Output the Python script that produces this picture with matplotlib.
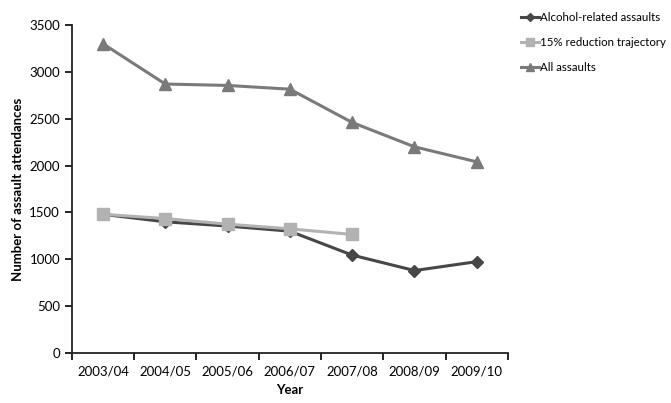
import matplotlib
matplotlib.use("Agg")
import matplotlib.pyplot as plt
import numpy as np
from matplotlib.ticker import FixedLocator, NullFormatter

plt.rcParams['font.family'] = ['Lato', 'DejaVu Sans']

years = ["2003/04", "2004/05", "2005/06", "2006/07", "2007/08", "2008/09", "2009/10"]
alcohol = [1480, 1400, 1355, 1300, 1045, 880, 975]
trajectory = [1480, 1435, 1375, 1325, 1265]
all_assaults = [3300, 2870, 2855, 2815, 2460, 2200, 2040]

fig = plt.figure(figsize=(6.71, 4.03), dpi=100)
ax = fig.add_axes([0.107, 0.124, 0.65, 0.814])

x = np.arange(len(years))
ax.plot(x, alcohol, color="#474747", lw=2.2, marker="D", ms=6.5, label="Alcohol-related assaults")
ax.plot(x[:len(trajectory)], trajectory, color="#b2b2b2", lw=2.2, marker="s", ms=8, label="15% reduction trajectory")
ax.plot(x, all_assaults, color="#7a7a7a", lw=2.2, marker="^", ms=9, label="All assaults")

ax.set_xlim(-0.5, len(years) - 0.5)
ax.set_ylim(0, 3500)
ax.set_yticks(range(0, 3501, 500))
ax.set_xticks(x)
ax.set_xticklabels(years, fontsize=9.5)
ax.xaxis.set_minor_locator(FixedLocator(np.arange(-0.5, len(years), 1.0)))
ax.xaxis.set_minor_formatter(NullFormatter())
ax.tick_params(axis='x', which='major', length=0, pad=9)
ax.tick_params(axis='x', which='minor', length=5, width=1.2, direction='out')
ax.tick_params(axis='y', length=5, width=1.2, labelsize=9.5)
for s in ['top', 'right']:
    ax.spines[s].set_visible(False)
for s in ['left', 'bottom']:
    ax.spines[s].set_linewidth(1.3)
    ax.spines[s].set_color("#222222")

ax.set_xlabel("Year", fontsize=9.5, fontweight='bold', labelpad=5)
ax.set_ylabel("Number of assault attendances", fontsize=9.5, fontweight='bold', labelpad=4)

leg = ax.legend(loc='upper left', bbox_to_anchor=(1.02, 1.055), frameon=False,
                prop={'size': 8.3},
                handlelength=1.5, handletextpad=0.15, labelspacing=1.25, borderaxespad=0,
                markerscale=0.65)

fig.savefig("out.png", dpi=100)
